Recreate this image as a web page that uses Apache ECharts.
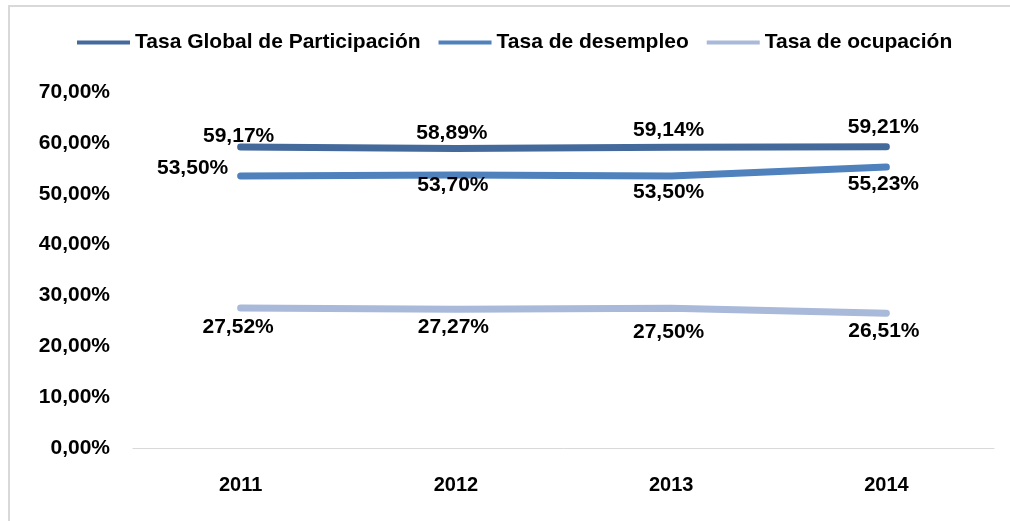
<!DOCTYPE html>
<html><head><meta charset="utf-8">
<script src="https://cdn.jsdelivr.net/npm/echarts@6/dist/echarts.min.js"></script>
<style>
html,body{margin:0;padding:0;background:#fff;}
#frame{position:absolute;left:8px;top:5px;width:1010px;height:530px;border-left:2px solid #D9D9D9;border-top:2px solid #D9D9D9;box-sizing:border-box;}
#c{position:absolute;left:0;top:0;width:1010px;height:521px;}
</style></head>
<body>
<div id="frame"></div>
<div id="c"></div>
<script>
const categories = ['2011', '2012', '2013', '2014'];
const seriesNames = ['Tasa Global de Participación', 'Tasa de desempleo', 'Tasa de ocupación'];
const tgp = [59.17, 58.89, 59.14, 59.21];
const desempleo = [53.50, 53.70, 53.50, 55.23];
const ocupacion = [27.52, 27.27, 27.50, 26.51];
const yTicks = [0, 10, 20, 30, 40, 50, 60, 70];

// label placement (style only): centre offset from each point, in px
const labelOffsets = [
  [[-2, -11], [-4, -15], [-2.5, -17.5], [-3, -19.5]],
  [[-48, -7.5], [-3, 10.5], [-2.5, 16.5], [-3, 17.5]],
  [[-2.5, 19.5], [-2.5, 18], [-2.5, 24], [-2.5, 18]]
];

const FONT = 'Liberation Sans, Arial, sans-serif';
const colors = ['#44699B', '#4F81BD', '#A9B9D9'];
const fmt = v => v.toFixed(2).replace('.', ',') + '%';

function makeData(values, si) {
  return values.map((v, i) => ({
    value: v,
    label: {offset: labelOffsets[si][i]}
  }));
}
function makeSeries(values, si) {
  return {
    name: seriesNames[si], type: 'line', data: makeData(values, si),
    symbol: 'circle', symbolSize: 1, showSymbol: true,
    itemStyle: {color: colors[si]},
    lineStyle: {width: 7, color: colors[si], cap: 'round', join: 'round'},
    label: {show: true, position: 'inside', fontFamily: FONT, fontWeight: 'bold',
      fontSize: 21, color: '#000', formatter: p => fmt(p.value)},
    emphasis: {disabled: true}
  };
}

const chart = echarts.init(document.getElementById('c'), null, {renderer: 'canvas'});
chart.setOption({
  animation: false,
  color: colors,
  legend: {
    top: 27, left: 72, itemWidth: 53, itemHeight: 4, itemGap: 18,
    icon: 'rect',
    textStyle: {fontFamily: FONT, fontWeight: 'bold', fontSize: 21, color: '#000'},
    data: seriesNames.map((n, i) => ({name: n, itemStyle: {color: colors[i]}}))
  },
  grid: {left: 133, right: 16, top: 92, bottom: 73},
  xAxis: {
    type: 'category', data: categories, boundaryGap: true,
    axisLine: {lineStyle: {color: '#D9D9D9', width: 1}},
    axisTick: {show: false},
    axisLabel: {fontFamily: FONT, fontWeight: 'bold', fontSize: 20, color: '#000', margin: 27}
  },
  yAxis: {
    type: 'value', min: 0, max: 70, interval: 10,
    axisLine: {show: false}, axisTick: {show: false}, splitLine: {show: false},
    axisLabel: {fontFamily: FONT, fontWeight: 'bold', fontSize: 21, color: '#000', margin: 23,
      formatter: v => yTicks.includes(v) ? fmt(v) : ''}
  },
  series: [makeSeries(tgp, 0), makeSeries(desempleo, 1), makeSeries(ocupacion, 2)]
});
</script>
</body></html>
